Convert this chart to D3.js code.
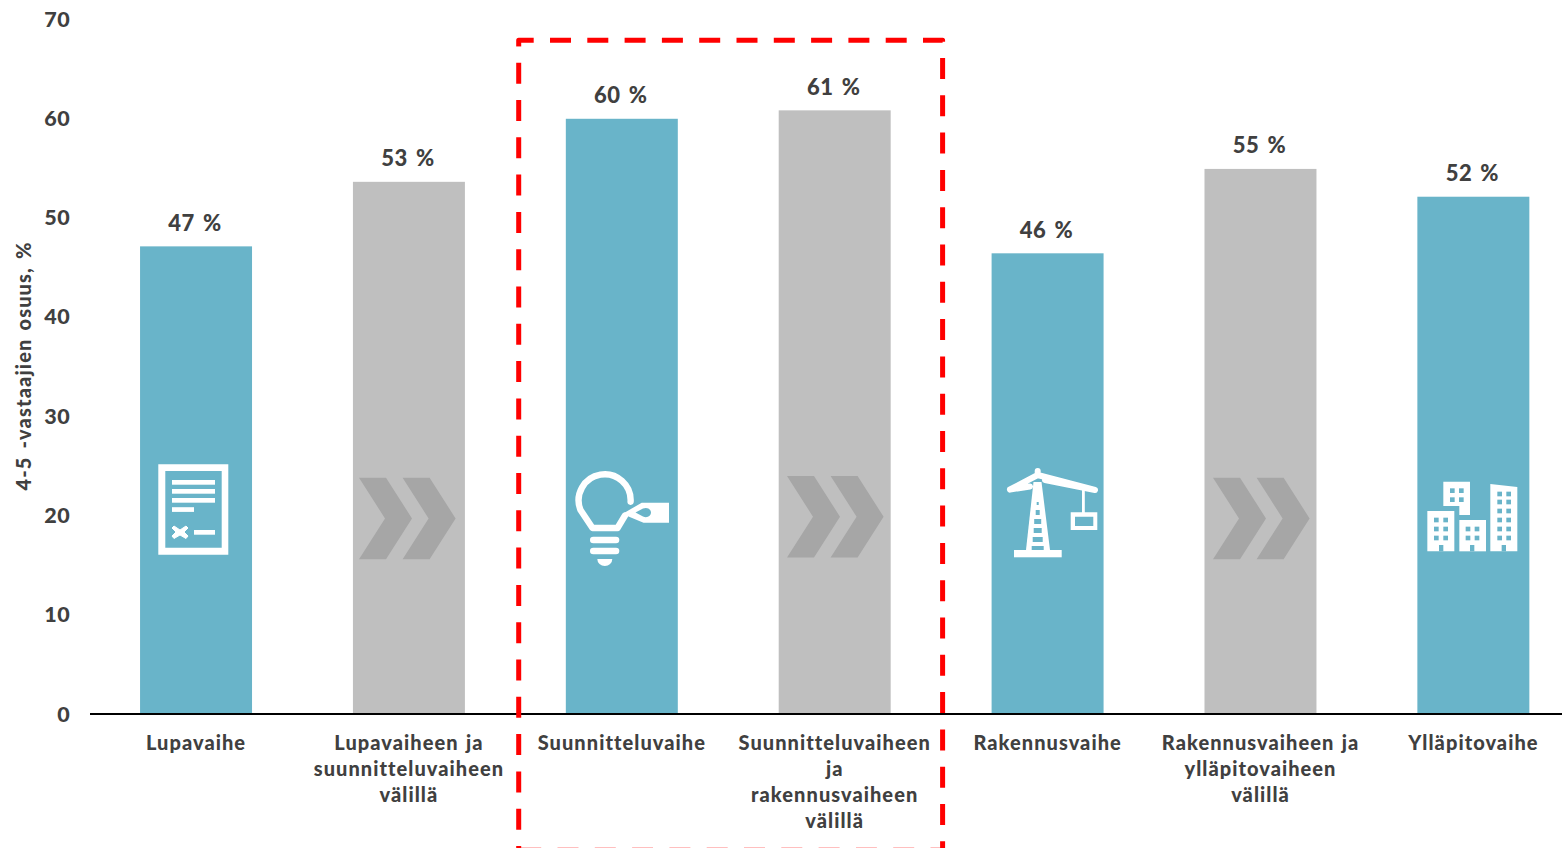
<!DOCTYPE html>
<html><head><meta charset="utf-8">
<script src="https://cdnjs.cloudflare.com/ajax/libs/d3/7.8.5/d3.min.js"></script>
<style>html,body{margin:0;padding:0;background:#fff;overflow:hidden}svg{display:block}
text{font-family:Lato,"Open Sans",sans-serif;font-weight:900;fill:#404040}</style></head>
<body><svg id="c" width="1562" height="848"></svg>
<script>
const categories=["Lupavaihe","Lupavaiheen ja\nsuunnitteluvaiheen\nvälillä","Suunnitteluvaihe","Suunnitteluvaiheen\nja\nrakennusvaiheen\nvälillä","Rakennusvaihe","Rakennusvaiheen ja\nylläpitovaiheen\nvälillä","Ylläpitovaihe"];
const values=[47.1,53.6,59.95,60.8,46.4,54.9,52.1];
const valueLabels=["47 %","53 %","60 %","61 %","46 %","55 %","52 %"];
const phaseKinds=["phase","between","phase","between","phase","between","phase"];
const yTicks=[0,10,20,30,40,50,60,70];
const yTitle="4-5 -vastaajien osuus, %";
const colors={phase:"#69b4c9",between:"#bfbfbf"};

const svg=d3.select("#c");
const x=d3.scaleBand().domain(categories).range([89.6,1579.8]).paddingInner(0.474).paddingOuter(0.237);
const y=d3.scaleLinear().domain([0,70]).range([714,19]);

svg.append("g").selectAll("rect").data(categories).join("rect")
 .attr("x",d=>x(d)).attr("width",x.bandwidth())
 .attr("y",(d,i)=>y(values[i])).attr("height",(d,i)=>y(0)-y(values[i]))
 .attr("fill",(d,i)=>colors[phaseKinds[i]]);

// y axis
const ya=svg.append("g").attr("transform","translate(70.5,0)")
 .call(d3.axisLeft(y).tickValues(yTicks).tickSize(0).tickPadding(0));
ya.select(".domain").remove();
ya.selectAll("text").style("font-size","21.5px").style("font-family","Lato").style("letter-spacing","0.7px").attr("dy","0.33em");

svg.append("text").attr("transform","translate(31,366) rotate(-90)").attr("text-anchor","middle")
 .style("font-size","20px").style("letter-spacing","1.15px").style("word-spacing","2px").text(yTitle);

// x axis
const xa=svg.append("g").attr("transform","translate(0,714)")
 .call(d3.axisBottom(x).tickSize(0).tickFormat(""));
xa.select(".domain").remove();
svg.append("line").attr("x1",90).attr("x2",1562).attr("y1",y(0)).attr("y2",y(0)).attr("stroke","#000").attr("stroke-width",2);

xa.selectAll(".tick").each(function(d){
  const t=d3.select(this); t.select("text").remove();
  const txt=t.append("text").attr("text-anchor","middle").style("font-size","20px").style("letter-spacing","1.05px").style("word-spacing","1.5px");
  d.split("\n").forEach((s,i)=>txt.append("tspan").attr("x",0).attr("y",36+i*26).text(s));
});

// value labels
svg.append("g").selectAll("text").data(categories).join("text")
 .attr("x",d=>x(d)+x.bandwidth()/2-1).attr("y",(d,i)=>y(values[i])-15.5)
 .attr("text-anchor","middle").style("font-size","22px").style("letter-spacing","0.5px").style("word-spacing","2.5px")
 .text((d,i)=>valueLabels[i]);

// decorative icons (pixel-anchored pictograms)
const icons=svg.append("g");
function chev(ox,top){
  const h=81.5;
  const g=icons.append("g").attr("transform",`translate(${ox},${top})`).attr("fill","#a6a6a6");
  [0,43.6].forEach(dx=>g.append("path").attr("transform",`translate(${dx},0)`)
    .attr("d",`M0,0H27L53,${h/2}L27,${h}H0L26,${h/2}Z`));
}
chev(359,477.7);chev(787,476);chev(1213,477.7);

// document
const doc=icons.append("g").attr("fill","#fff");
doc.append("path").attr("fill-rule","evenodd").attr("d","M158.3,464.3H228.3V554.7H158.3ZM165.3,471V547.7H221.7V471Z");
[[172,480,43],[172,489,43],[172,498,43],[172,507.2,22],[194,530,21]].forEach(r=>doc.append("rect").attr("x",r[0]).attr("y",r[1]).attr("width",r[2]).attr("height",4.7));
doc.append("path").attr("d","M174,526L180,530L186,526L188,528L184,532L188,536L186,538.5L180,535L174,538.5L172,536L176,532L172,528Z").attr("stroke","#fff").attr("stroke-width",1);

// bulb
const b=icons.append("g");
b.append("path").attr("fill","none").attr("stroke","#fff").attr("stroke-width",6.4).attr("stroke-linecap","round").attr("stroke-linejoin","round")
 .attr("d","M630.6,501.7A26,26 0 1 0 580.5,510L592.5,528H617.5L625,515.5");
b.append("path").attr("fill","#fff").attr("fill-rule","evenodd")
 .attr("d","M624,513L641.7,502.7H669V522.7H643.5L628.5,516.5ZM635.5,512.5L643,508.5C648,506.5 651,510 651,512.5C651,515.5 647.5,518.5 643,516.5Z");
[[590,536.7],[590,547.7]].forEach(r=>b.append("rect").attr("x",r[0]).attr("y",r[1]).attr("width",29.3).attr("height",6.6).attr("rx",3.3).attr("fill","#fff"));
b.append("path").attr("fill","#fff").attr("d","M597.3,559H612.3A7.5,7 0 0 1 597.3,559Z");

// crane
const c=icons.append("g");
c.append("path").attr("fill","none").attr("stroke","#fff").attr("stroke-width",6).attr("stroke-linecap","round").attr("stroke-linejoin","round")
 .attr("d","M1037.7,471V475M1010,489.5L1037.7,475L1095,490M1010,489.5L1030,486.5M1045,480L1095,490");
c.append("path").attr("fill","#fff").attr("d","M1033.5,482H1041.5L1050,550H1026Z");
c.append("rect").attr("x",1014).attr("y",550).attr("width",47.7).attr("height",7.3).attr("fill","#fff");
[[502,505,1],[510,515,2],[519,524,3.5],[528,533,4],[537,542,5],[546,550,6]].forEach(r=>c.append("rect").attr("x",1037.7-r[2]).attr("y",r[0]).attr("width",2*r[2]).attr("height",r[1]-r[0]).attr("fill",colors.phase));
c.append("rect").attr("x",1082).attr("y",490).attr("width",2.8).attr("height",23).attr("fill","#fff");
c.append("path").attr("fill","#fff").attr("fill-rule","evenodd").attr("d","M1070.7,512.3H1097.3V530H1070.7ZM1075,516.7V526H1093.3V516.7Z");

// buildings
const bl=icons.append("g").attr("transform","translate(1410,470) scale(0.3333)");
const W=14,addWins=(xs,ys)=>xs.forEach(a=>ys.forEach(e=>bl.append("rect").attr("x",a).attr("y",e).attr("width",W).attr("height",W).attr("fill",colors.phase)));
[[ "M52,123H133V244H52Z",[72,100],[143,170,197],[87,225]],
 [ "M100,35H180V135H148V108H100Z",[120,147],[55,82],null],
 [ "M148,150H228V244H148Z",[167,194],[170,197],[180,225]],
 [ "M241,42L322,51V244H241Z",[262,289],[65,89,116,143,170,197],[275,225]]
].forEach(d=>{
  bl.append("path").attr("d",d[0]).attr("fill","#fff");
  addWins(d[1],d[2]);
  if(d[3])bl.append("rect").attr("x",d[3][0]).attr("y",d[3][1]).attr("width",13).attr("height",19).attr("fill",colors.phase);
});

// red dashed highlight
const box=svg.append("g").attr("fill","none").attr("stroke","#ff0000").attr("stroke-width",5).attr("stroke-dasharray","21,16.3").attr("stroke-linejoin","round");
box.append("path").attr("d","M518.7,46.3V40.3H942.6V850.2H518.7");
box.append("path").attr("d","M518.7,46.3V850.2").attr("stroke-dashoffset",20.9);
</script></body></html>
